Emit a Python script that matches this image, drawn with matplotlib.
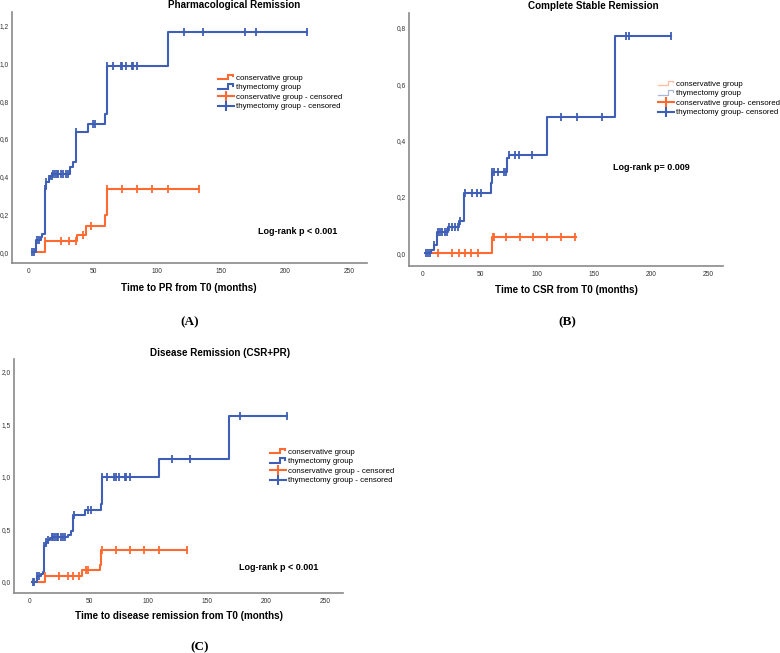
import numpy as np
import matplotlib
matplotlib.use("Agg")
import matplotlib.pyplot as plt
from matplotlib.lines import Line2D
from matplotlib.legend_handler import HandlerBase
from matplotlib.ticker import FuncFormatter

BLUE = "#3f5fb6"
ORANGE = "#ff6a30"
W, H = 780, 653
SANS = "Liberation Sans"
SERIF = "Liberation Serif"

# ---- (A) Pharmacological Remission: cumulative hazard steps
a_thy_t = [2.0, 5.7, 9.1, 10.4, 12.3, 13.6, 15.7, 16.7, 18.2, 31.9, 34.5, 36.6, 46.2, 59.6, 60.6, 108.4]
a_thy_h = [0.0, 0.062, 0.080, 0.097, 0.336, 0.372, 0.390, 0.405, 0.416, 0.451, 0.480, 0.637, 0.681, 0.735, 0.986, 1.168]
a_thy_end = 217.3
a_thy_cens = [2.4, 3.9, 6.3, 7.8, 12.3, 13.6, 15.9, 17.8, 19.1, 20.4, 21.7, 23.0, 25.1, 26.9, 29.0, 30.8,
              37.0, 49.6, 51.5, 60.6, 65.8, 71.6, 72.4, 75.7, 80.4, 81.5, 84.1, 120.7, 135.6, 168.5, 177.6, 217.3]
a_con_t = [3.1, 12.8, 37.1, 44.4, 59.6, 60.6]
a_con_h = [0.0, 0.058, 0.088, 0.136, 0.195, 0.333]
a_con_end = 133.0
a_con_cens = [12.8, 24.8, 31.3, 36.6, 41.8, 48.3, 60.6, 72.4, 84.1, 96.4, 108.4, 133.0]

# ---- (B) Complete Stable Remission
b_thy_t = [1.5, 7.4, 9.4, 12.4, 22.0, 31.5, 36.2, 59.7, 60.3, 74.0, 75.0, 108.8, 168.5]
b_thy_h = [0.0, 0.012, 0.030, 0.075, 0.091, 0.113, 0.213, 0.249, 0.287, 0.338, 0.350, 0.484, 0.773]
b_thy_end = 217.6
b_thy_cens = [2.9, 4.4, 6.5, 9.8, 13.2, 14.7, 17.0, 19.0, 20.6, 23.0, 25.0, 28.0, 31.0, 32.5, 37.0, 42.8,
              47.2, 50.7, 60.4, 62.5, 65.4, 71.3, 72.7, 75.1, 81.0, 83.9, 95.6, 120.6, 135.3, 156.5, 178.0, 181.0, 217.6]
b_con_t = [2.9, 60.3]
b_con_h = [0.0, 0.057]
b_con_end = 133.8
b_con_cens = [13.2, 25.0, 31.8, 36.8, 41.8, 48.5, 61.0, 62.5, 72.6, 84.7, 96.5, 108.8, 120.6, 133.2]

# ---- (C) Disease Remission (CSR+PR)
c_thy_t = [1.4, 5.6, 9.0, 10.7, 12.1, 13.6, 15.5, 17.0, 18.4, 31.9, 34.5, 36.2, 46.6, 59.9, 60.7, 109.0, 168.6]
c_thy_h = [0.0, 0.060, 0.079, 0.095, 0.340, 0.378, 0.403, 0.419, 0.429, 0.450, 0.489, 0.635, 0.683, 0.737, 0.997, 1.171, 1.578]
c_thy_end = 218.0
c_thy_cens = [2.2, 3.6, 6.0, 7.5, 12.1, 13.8, 15.5, 18.5, 19.8, 21.0, 22.5, 24.0, 26.0, 28.0, 30.0, 36.8,
              49.4, 51.4, 60.7, 65.5, 71.5, 72.6, 75.4, 80.5, 81.4, 84.7, 120.6, 135.6, 178.0, 218.0]
c_con_t = [2.8, 12.7, 44.4, 59.3, 59.9]
c_con_h = [0.0, 0.060, 0.111, 0.165, 0.302]
c_con_end = 133.3
c_con_cens = [12.7, 24.9, 31.9, 36.7, 41.5, 47.5, 48.9, 60.5, 72.9, 84.7, 96.6, 108.8, 132.8]

x_ticks = [0, 50, 100, 150, 200, 250]
a_yticks = [0.0, 0.2, 0.4, 0.6, 0.8, 1.0, 1.2]
b_yticks = [0.0, 0.2, 0.4, 0.6, 0.8]
c_yticks = [0.0, 0.5, 1.0, 1.5, 2.0]

labels_ac = ["conservative group", "thymectomy group",
             "conservative group - censored", "thymectomy group - censored"]
labels_b = ["conservative group", "thymectomy group",
            "conservative group- censored", "thymectomy group- censored"]


def fx(px):
    return px / W


def fy(py):
    return 1 - py / H


class StepHandler(HandlerBase):
    def create_artists(self, legend, orig, xd, yd, width, height, fontsize, trans):
        x0 = -xd
        xs = [x0, x0 + 0.6 * width, x0 + 0.6 * width, x0 + 0.95 * width, x0 + 0.95 * width]
        ys = [-yd + 0.1 * height, -yd + 0.1 * height, -yd + 0.9 * height, -yd + 0.9 * height, -yd + 0.6 * height]
        ln = Line2D(xs, ys, color=orig.get_color(), lw=orig.get_linewidth(), alpha=orig.get_alpha(),
                    solid_joinstyle="miter")
        ln.set_transform(trans)
        return [ln]


def draw_curve(ax, t, h, end, cens, color):
    xs = list(t) + [end]
    ys = list(h) + [h[-1]]
    ax.step(xs, ys, where="post", color=color, lw=1.5, zorder=3)
    idx = np.searchsorted(t, cens, side="right") - 1
    cy = np.array(h)[np.clip(idx, 0, len(h) - 1)]
    ax.plot(cens, cy, ls="none", marker="|", ms=5.5, mew=1.3, color=color, zorder=4)


def panel(rect, xlim, ylim, yticks, curves):
    ax = fig.add_axes(rect)
    for t, h, end, cens, col in curves:
        draw_curve(ax, t, h, end, cens, col)
    ax.set_xlim(*xlim)
    ax.set_ylim(*ylim)
    ax.set_xticks(x_ticks)
    ax.set_yticks(yticks)
    ax.yaxis.set_major_formatter(FuncFormatter(lambda v, p: f"{v:.1f}".replace(".", ",")))
    ax.tick_params(axis="x", length=0, pad=3.5, labelsize=4.8, colors="#333333")
    ax.tick_params(axis="y", length=0, pad=2.5, labelsize=4.8, colors="#333333")
    for s in ("top", "right"):
        ax.spines[s].set_visible(False)
    for s in ("left", "bottom"):
        ax.spines[s].set_color("#8a8a8a")
        ax.spines[s].set_linewidth(1.2)
    for lab in ax.get_xticklabels() + ax.get_yticklabels():
        lab.set_family(SANS)
    return ax


def add_legend(labels, left_px, top_px, faded=False):
    a = 0.45 if faded else 1.0
    lw = 0.9 if faded else 1.5
    h1 = Line2D([], [], color=ORANGE, lw=lw, alpha=a)
    h2 = Line2D([], [], color=BLUE, lw=lw, alpha=a)
    h3 = Line2D([], [], color=ORANGE, lw=1.5, marker="|", ms=7, mew=1.5)
    h4 = Line2D([], [], color=BLUE, lw=1.5, marker="|", ms=7, mew=1.5)
    fig.legend([h1, h2, h3, h4], labels, loc="upper left",
               bbox_to_anchor=(fx(left_px), fy(top_px)), frameon=False,
               borderpad=0, borderaxespad=0, handlelength=2.0, handletextpad=0.25,
               labelspacing=0.26, numpoints=1,
               prop={"family": SANS, "size": 5.7},
               handler_map={h1: StepHandler(), h2: StepHandler()})


fig = plt.figure(figsize=(7.8, 6.53), dpi=100)

# (A)
panel([fx(12), fy(263), fx(355), 251 / H], (-13.3, 264), (-0.058, 1.274), a_yticks,
      [(a_con_t, a_con_h, a_con_end, a_con_cens, ORANGE),
       (a_thy_t, a_thy_h, a_thy_end, a_thy_cens, BLUE)])
add_legend(labels_ac, 218, 74)
fig.text(fx(234), fy(5), "Pharmacological Remission", ha="center", va="center",
         family=SANS, weight="bold", size=7.1)
fig.text(fx(189), fy(288), "Time to PR from T0 (months)", ha="center", va="center",
         family=SANS, weight="bold", size=7.1)
fig.text(fx(298), fy(231), "Log-rank p < 0.001", ha="center", va="center",
         family=SANS, weight="bold", size=6.5)
fig.text(fx(190), fy(322), "(A)", ha="center", va="center", family=SERIF, weight="bold", size=9.5)

# (B)
panel([fx(409), fy(266), fx(314), 253 / H], (-12.3, 263), (-0.046, 0.853), b_yticks,
      [(b_con_t, b_con_h, b_con_end, b_con_cens, ORANGE),
       (b_thy_t, b_thy_h, b_thy_end, b_thy_cens, BLUE)])
add_legend(labels_b, 658, 80, faded=True)
fig.text(fx(593), fy(6), "Complete Stable Remission", ha="center", va="center",
         family=SANS, weight="bold", size=7.1)
fig.text(fx(566), fy(290), "Time to CSR from T0 (months)", ha="center", va="center",
         family=SANS, weight="bold", size=7.1)
fig.text(fx(651), fy(167), "Log-rank p= 0.009", ha="center", va="center",
         family=SANS, weight="bold", size=6.5)
fig.text(fx(567), fy(322), "(B)", ha="center", va="center", family=SERIF, weight="bold", size=9.5)

# (C)
panel([fx(14), fy(593), fx(329), 234 / H], (-13.6, 265), (-0.105, 2.12), c_yticks,
      [(c_con_t, c_con_h, c_con_end, c_con_cens, ORANGE),
       (c_thy_t, c_thy_h, c_thy_end, c_thy_cens, BLUE)])
add_legend(labels_ac, 270, 448)
fig.text(fx(220), fy(353), "Disease Remission (CSR+PR)", ha="center", va="center",
         family=SANS, weight="bold", size=7.1)
fig.text(fx(179), fy(616), "Time to disease remission from T0 (months)", ha="center", va="center",
         family=SANS, weight="bold", size=7.1)
fig.text(fx(279), fy(568), "Log-rank p < 0.001", ha="center", va="center",
         family=SANS, weight="bold", size=6.5)
fig.text(fx(200), fy(647), "(C)", ha="center", va="center", family=SERIF, weight="bold", size=9.5)

fig.savefig("out.png", dpi=100)
